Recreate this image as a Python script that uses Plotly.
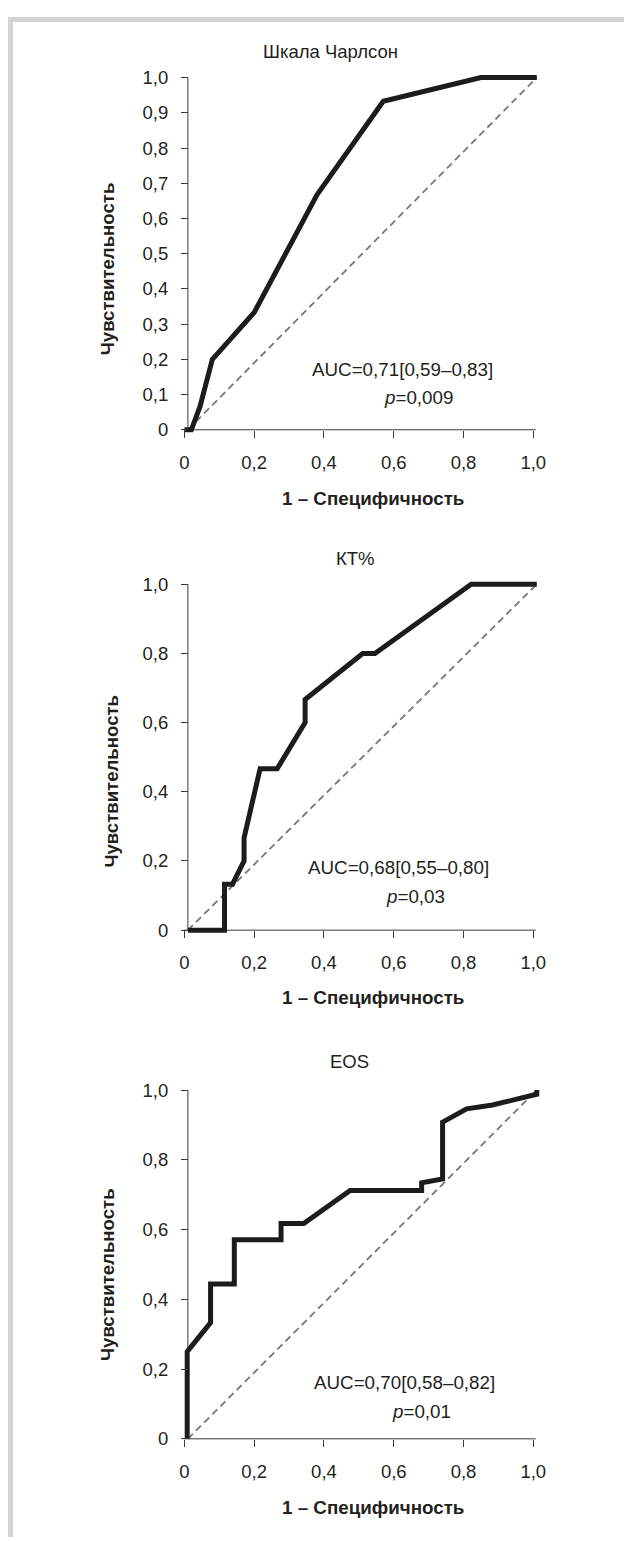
import plotly.graph_objects as go

W, H = 626, 1541

# ---------------- data ----------------
titles = ["Шкала Чарлсон", "КТ%", "EOS"]

fpr_charlson = [0.0, 0.02, 0.045, 0.08, 0.20, 0.38, 0.57, 0.85, 1.01]
tpr_charlson = [0.0, 0.0, 0.067, 0.20, 0.333, 0.667, 0.933, 1.0, 1.0]

fpr_kt = [0.01, 0.115, 0.115, 0.138, 0.171, 0.171, 0.217, 0.266, 0.346, 0.346, 0.511, 0.546, 0.822, 1.01]
tpr_kt = [0.0, 0.0, 0.133, 0.133, 0.20, 0.267, 0.467, 0.467, 0.60, 0.667, 0.80, 0.80, 1.0, 1.0]

fpr_eos = [0.008, 0.008, 0.075, 0.075, 0.143, 0.143, 0.277, 0.277, 0.342, 0.475, 0.68, 0.68, 0.74, 0.74, 0.809, 0.883, 1.01, 1.01]
tpr_eos = [0.0, 0.25, 0.333, 0.444, 0.444, 0.571, 0.571, 0.617, 0.617, 0.712, 0.712, 0.734, 0.745, 0.908, 0.946, 0.957, 0.988, 1.0]

diag_x = [0.01, 1.01]
diag_y = [0.0, 1.0]

auc_texts = ["AUC=0,71[0,59–0,83]", "AUC=0,68[0,55–0,80]", "AUC=0,70[0,58–0,82]"]
p_texts = ["<i>p</i>=0,009", "<i>p</i>=0,03", "<i>p</i>=0,01"]

x_tickvals = [0, 0.2, 0.4, 0.6, 0.8, 1.0]
x_ticktext = ["0", "0,2", "0,4", "0,6", "0,8", "1,0"]
y_tickvals_fine = [0, 0.1, 0.2, 0.3, 0.4, 0.5, 0.6, 0.7, 0.8, 0.9, 1.0]
y_ticktext_fine = ["0", "0,1", "0,2", "0,3", "0,4", "0,5", "0,6", "0,7", "0,8", "0,9", "1,0"]
y_tickvals_coarse = [0, 0.2, 0.4, 0.6, 0.8, 1.0]
y_ticktext_coarse = ["0", "0,2", "0,4", "0,6", "0,8", "1,0"]

x_label = "1 – Специфичность"
y_label = "Чувствительность"

# ---------------- layout geometry (pixels) ----------------
X0, SX = 185.0, 350.0          # pixel of x=0, pixels per unit
XPAD_L, XPAD_R = 0.02, 0.03
YPAD = 0.02
panels = [
    dict(y0=428.0, sy=354.0, title_xy=(332, 48), ylab_xy=(108, 266),
         auc_xy=(404, 367), p_xy=(420, 396), xlab_y=497, fine=True),
    dict(y0=931.0, sy=347.7, title_xy=(357, 557), ylab_xy=(112, 781),
         auc_xy=(400, 868), p_xy=(417, 897), xlab_y=999, fine=False),
    dict(y0=1442.3, sy=350.6, title_xy=(351, 1063), ylab_xy=(108, 1277),
         auc_xy=(406, 1386), p_xy=(423, 1415), xlab_y=1511, fine=False),
]
series = [(fpr_charlson, tpr_charlson), (fpr_kt, tpr_kt), (fpr_eos, tpr_eos)]

FONT = "Liberation Sans, Arial, sans-serif"
TXT = "#231f20"
AXC = "#3a3a3a"

fig = go.Figure()
layout = dict(width=W, height=H, margin=dict(l=0, r=0, t=0, b=0),
              paper_bgcolor="white", plot_bgcolor="rgba(0,0,0,0)",
              showlegend=False, font=dict(family=FONT, color=TXT))
annotations = []
shapes = []

xdom = [(X0 - XPAD_L * SX) / W, (X0 + (1 + XPAD_R) * SX) / W]
for i, (pn, (fx, ty)) in enumerate(zip(panels, series)):
    k = "" if i == 0 else str(i + 1)
    y0, sy = pn["y0"], pn["sy"]
    ydom = [1 - (y0 + YPAD * sy) / H, 1 - (y0 - (1 + YPAD) * sy) / H]
    xa, ya = "x" + k, "y" + k

    fig.add_trace(go.Scatter(x=diag_x, y=diag_y, mode="lines", xaxis=xa, yaxis=ya,
                             line=dict(color="#777777", width=1.8, dash="7px,4.5px"),
                             hoverinfo="skip"))
    fig.add_trace(go.Scatter(x=fx, y=ty, mode="lines", xaxis=xa, yaxis=ya,
                             line=dict(color="#1c1c1c", width=5),
                             hoverinfo="skip"))

    layout["xaxis" + k] = dict(domain=xdom, range=[-XPAD_L, 1 + XPAD_R],
                               anchor="free", position=1 - y0 / H,
                               showgrid=False, zeroline=False, showline=False,
                               tickmode="array", tickvals=x_tickvals, ticktext=x_ticktext,
                               ticks="outside", ticklen=7, tickwidth=1, tickcolor=AXC,
                               ticklabelstandoff=9,
                               tickfont=dict(size=18.5, color=TXT, family=FONT))
    tv = y_tickvals_fine if pn["fine"] else y_tickvals_coarse
    tt = y_ticktext_fine if pn["fine"] else y_ticktext_coarse
    layout["yaxis" + k] = dict(domain=ydom, range=[-YPAD, 1 + YPAD],
                               anchor="free", position=(X0 + 0.01 * SX) / W,
                               showgrid=False, zeroline=False, showline=False,
                               tickmode="array", tickvals=tv, ticktext=tt,
                               ticks="outside", ticklen=7, tickwidth=1, tickcolor=AXC,
                               ticklabelstandoff=9,
                               tickfont=dict(size=18.5, color=TXT, family=FONT))
    # axis lines
    shapes.append(dict(type="line", xref=xa, yref=ya, x0=-0.003, x1=1.007, y0=0, y1=0,
                       line=dict(color=AXC, width=1), layer="below"))
    shapes.append(dict(type="line", xref=xa, yref=ya, x0=0.01, x1=0.01, y0=0, y1=1,
                       line=dict(color=AXC, width=1), layer="below"))

    tx, tyy = pn["title_xy"]
    annotations.append(dict(text=titles[i], x=tx / W, y=1 - tyy / H, xref="paper", yref="paper",
                            showarrow=False, xanchor="center", yanchor="middle",
                            font=dict(size=18.5, color=TXT, family=FONT)))
    lx, ly = pn["ylab_xy"]
    annotations.append(dict(text="<b>" + y_label + "</b>", x=lx / W, y=1 - ly / H,
                            xref="paper", yref="paper", showarrow=False, textangle=-90,
                            xanchor="center", yanchor="middle",
                            font=dict(size=18.6, color=TXT, family=FONT)))
    annotations.append(dict(text="<b>" + x_label + "</b>", x=(X0 + 0.54 * SX) / W,
                            y=1 - pn["xlab_y"] / H, xref="paper", yref="paper",
                            showarrow=False, xanchor="center", yanchor="middle",
                            font=dict(size=18.8, color=TXT, family=FONT)))
    ax_, ay_ = pn["auc_xy"]
    annotations.append(dict(text=auc_texts[i], x=ax_ / W, y=1 - ay_ / H, xref="paper", yref="paper",
                            showarrow=False, xanchor="center", yanchor="middle",
                            font=dict(size=18.8, color=TXT, family=FONT)))
    px_, py_ = pn["p_xy"]
    annotations.append(dict(text=p_texts[i], x=px_ / W, y=1 - py_ / H, xref="paper", yref="paper",
                            showarrow=False, xanchor="center", yanchor="middle",
                            font=dict(size=18.8, color=TXT, family=FONT)))

# grey frame (top and left)
shapes.append(dict(type="rect", xref="paper", yref="paper", x0=8 / W, x1=1.0,
                   y0=1 - 18 / H, y1=1 - 13 / H, fillcolor="#d4d4d4", line=dict(width=0)))
shapes.append(dict(type="rect", xref="paper", yref="paper", x0=8 / W, x1=13 / W,
                   y0=0, y1=1 - 13 / H, fillcolor="#d4d4d4", line=dict(width=0)))

layout["annotations"] = annotations
layout["shapes"] = shapes
fig.update_layout(**layout)
fig.write_html("out.html", config={"displayModeBar": False, "staticPlot": True},
               post_script="document.body.style.margin='0';document.body.style.padding='0';"
                           "document.body.style.overflow='hidden';")
